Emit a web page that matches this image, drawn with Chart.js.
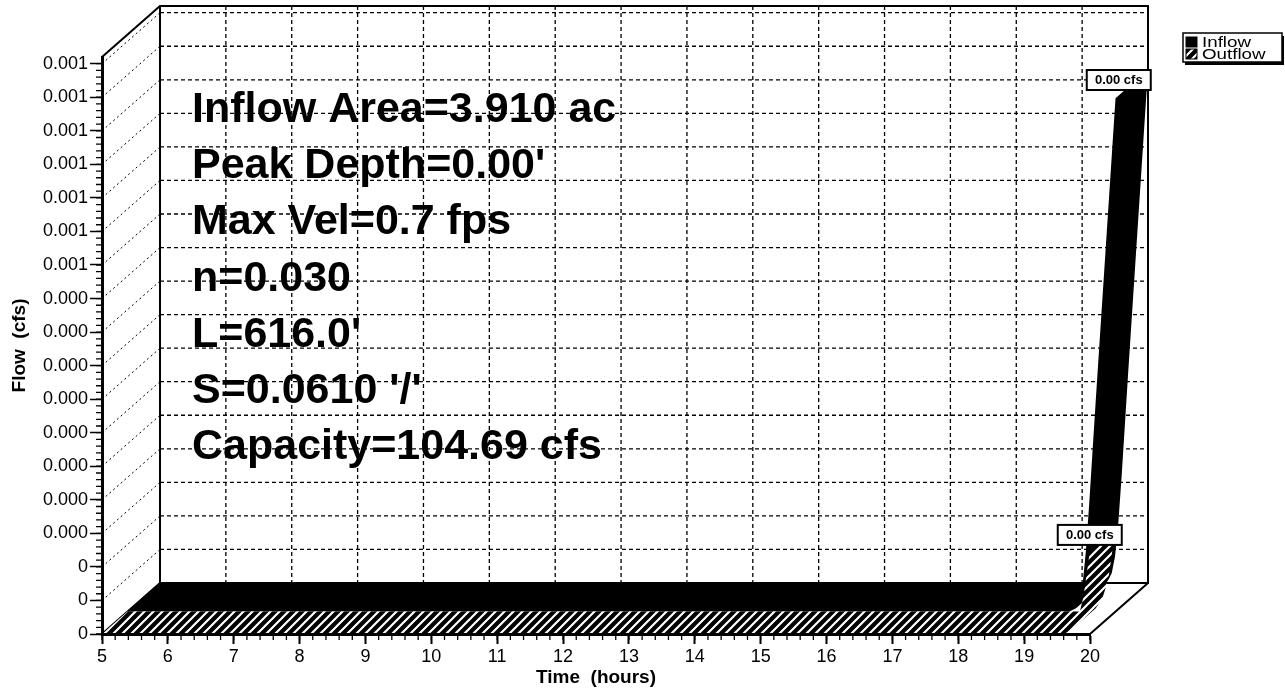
<!DOCTYPE html>
<html>
<head>
<meta charset="utf-8">
<title>Hydrograph</title>
<script src="https://cdn.jsdelivr.net/npm/chart.js@4.4.1/dist/chart.umd.min.js"></script>
<style>
  html, body { margin: 0; padding: 0; background: #fff; }
</style>
</head>
<body>
<canvas id="hydro" width="1285" height="692"></canvas>
<script>
// time (hours) and flows (cfs)
const times = [5, 6, 7, 8, 9, 10, 11, 12, 13, 14, 15, 16, 17, 18, 19,
  19.3, 19.4, 19.45, 19.5, 19.55, 19.6, 19.7, 19.8, 19.85, 19.9, 19.95, 20];
const inflow = [0, 0, 0, 0, 0, 0, 0, 0, 0, 0, 0, 0, 0, 0, 0,
  0, 0.000005, 0.000015, 0.00004, 0.00009, 0.00016, 0.000315, 0.000465, 0.00054, 0.000615, 0.00069, 0.000765];
const outflow = [0, 0, 0, 0, 0, 0, 0, 0, 0, 0, 0, 0, 0, 0, 0,
  0, 0, 0, 0, 0, 0, 0.000005, 0.00002, 0.000035, 0.000055, 0.00009, 0.000125];

const hourTicks = [5, 6, 7, 8, 9, 10, 11, 12, 13, 14, 15, 16, 17, 18, 19, 20];
const yTickValues = [0, 0.00005, 0.0001, 0.00015, 0.0002, 0.00025, 0.0003, 0.00035, 0.0004,
  0.00045, 0.0005, 0.00055, 0.0006, 0.00065, 0.0007, 0.00075, 0.0008, 0.00085];
const yTickLabels = ['0', '0', '0', '0.000', '0.000', '0.000', '0.000', '0.000', '0.000', '0.000', '0.000',
  '0.001', '0.001', '0.001', '0.001', '0.001', '0.001', '0.001'];
const yMax = 0.00086;

const notes = ['Inflow Area=3.910 ac', 'Peak Depth=0.00\'', 'Max Vel=0.7 fps', 'n=0.030',
  'L=616.0\'', 'S=0.0610 \'/\'', 'Capacity=104.69 cfs'];

const FONT = '"Liberation Sans", Arial, sans-serif';
const DEPTH = { dx: 58, dy: -51 };   // offset from front plane to back wall

function hatch() {
  const c = document.createElement('canvas');
  c.width = 9; c.height = 9;
  const g = c.getContext('2d');
  g.fillStyle = '#000';
  g.fillRect(0, 0, 9, 9);
  g.strokeStyle = '#fff';
  g.lineWidth = 2.2;
  g.beginPath();
  g.moveTo(-2, 11); g.lineTo(11, -2);
  g.moveTo(-2, 2); g.lineTo(2, -2);
  g.moveTo(7, 11); g.lineTo(11, 7);
  g.stroke();
  return g.createPattern(c, 'repeat');
}
const hatchFill = hatch();

const frame3d = {
  id: 'frame3d',
  beforeDatasetsDraw(chart) {
    const { ctx, chartArea: a, scales: { x, y } } = chart;
    const bl = a.left + DEPTH.dx, bt = a.top + DEPTH.dy;
    const br = a.right + DEPTH.dx, bb = a.bottom + DEPTH.dy;
    ctx.save();
    ctx.strokeStyle = '#000';

    // back wall grid
    ctx.lineWidth = 1.3;
    ctx.setLineDash([4, 3]);
    ctx.beginPath();
    hourTicks.forEach(h => {
      if (h > x.min && h < x.max) {
        const px = x.getPixelForValue(h) + DEPTH.dx;
        ctx.moveTo(px, bt); ctx.lineTo(px, bb);
      }
    });
    yTickValues.forEach(v => {
      if (v > 0) {
        const py = y.getPixelForValue(v) + DEPTH.dy;
        ctx.moveTo(bl, py); ctx.lineTo(br, py);
      }
    });
    ctx.stroke();

    // side wall
    ctx.lineWidth = 1;
    ctx.setLineDash([2, 3]);
    ctx.beginPath();
    yTickValues.forEach(v => {
      if (v > 0) {
        const py = y.getPixelForValue(v);
        ctx.moveTo(a.left, py); ctx.lineTo(bl, py + DEPTH.dy);
      }
    });
    ctx.stroke();

    // box edges
    ctx.setLineDash([]);
    ctx.lineWidth = 2;
    ctx.beginPath();
    ctx.moveTo(a.left, a.top); ctx.lineTo(bl, bt); ctx.lineTo(br, bt);
    ctx.lineTo(br, bb); ctx.lineTo(bl, bb); ctx.lineTo(bl, bt);
    ctx.moveTo(a.left, a.bottom); ctx.lineTo(bl, bb);
    ctx.moveTo(a.right, a.bottom); ctx.lineTo(br, bb);
    ctx.stroke();

    // ribbons, back one first
    chart.data.datasets.forEach((ds, i) => {
      const pts = chart.getDatasetMeta(i).data;
      const ax = DEPTH.dx * ds.depth[0], ay = DEPTH.dy * ds.depth[0];
      const bx = DEPTH.dx * ds.depth[1], by = DEPTH.dy * ds.depth[1];
      ctx.beginPath();
      for (let k = 0; k < pts.length - 1; k++) {
        const p = pts[k], n = pts[k + 1];
        const q = [[p.x + ax, p.y + ay], [n.x + ax, n.y + ay], [n.x + bx, n.y + by], [p.x + bx, p.y + by]];
        let area = 0;
        for (let j = 0; j < 4; j++) {
          const c = q[j], d = q[(j + 1) % 4];
          area += c[0] * d[1] - d[0] * c[1];
        }
        if (area < 0) q.reverse();
        ctx.moveTo(q[0][0], q[0][1]);
        for (let j = 1; j < 4; j++) ctx.lineTo(q[j][0], q[j][1]);
        ctx.closePath();
      }
      ctx.fillStyle = ds.backgroundColor;
      ctx.fill();
    });
    ctx.restore();
  },
  beforeDatasetDraw() {
    return false;
  },
  afterDraw(chart) {
    const { ctx, chartArea: a, scales: { x, y } } = chart;
    ctx.save();
    ctx.strokeStyle = '#000';
    ctx.fillStyle = '#000';

    // minor ticks
    ctx.lineWidth = 1.3;
    ctx.beginPath();
    for (let h = x.min; h < x.max; h += 0.2) {
      const px = x.getPixelForValue(h);
      ctx.moveTo(px, a.bottom); ctx.lineTo(px, a.bottom + 6);
    }
    const dv = yTickValues[1] / 5;
    for (let v = 0; v <= yTickValues[yTickValues.length - 1] + 1e-9; v += dv) {
      const py = y.getPixelForValue(v);
      ctx.moveTo(a.left - 6, py); ctx.lineTo(a.left, py);
    }
    ctx.stroke();

    // text block
    ctx.font = 'bold 43px ' + FONT;
    ctx.textAlign = 'left';
    ctx.textBaseline = 'alphabetic';
    notes.forEach((t, i) => ctx.fillText(t, a.left + 90, a.top + 65 + i * 56.2));

    // peak labels
    ctx.font = 'bold 13px ' + FONT;
    ctx.textAlign = 'center';
    ctx.textBaseline = 'middle';
    chart.data.datasets.forEach((ds, i) => {
      const pts = chart.getDatasetMeta(i).data;
      let top = 0;
      ds.data.forEach((d, k) => { if (d.y >= ds.data[top].y) top = k; });
      const p = pts[top];
      const zm = (ds.depth[0] + ds.depth[1]) / 2;
      const cx = p.x + DEPTH.dx * zm - 13;
      const bot = p.y + DEPTH.dy * zm + 6;
      ctx.fillStyle = '#fff';
      ctx.fillRect(cx - 32, bot - 20, 64, 20);
      ctx.lineWidth = 2;
      ctx.strokeRect(cx - 32, bot - 20, 64, 20);
      ctx.fillStyle = '#000';
      ctx.fillText(ds.data[top].y.toFixed(2) + ' cfs', cx, bot - 9.5);
    });

    // legend
    const lx = chart.width - 102, ly = 33, lw = 99, lh = 29;
    ctx.fillRect(lx + 2, ly + 3, lw, lh);
    ctx.fillStyle = '#fff';
    ctx.fillRect(lx, ly, lw, lh);
    ctx.lineWidth = 1.5;
    ctx.strokeRect(lx, ly, lw, lh);
    ctx.font = '15px ' + FONT;
    ctx.textAlign = 'left';
    chart.data.datasets.forEach((ds, i) => {
      const my = ly + 4 + i * 12;
      ctx.fillStyle = ds.backgroundColor;
      ctx.fillRect(lx + 3, my, 11, 10);
      ctx.lineWidth = 1;
      ctx.strokeRect(lx + 3, my, 11, 10);
      ctx.fillStyle = '#000';
      ctx.save();
      ctx.translate(lx + 19, my + 5.5);
      ctx.scale(1.25, 1);
      ctx.fillText(ds.label, 0, 0);
      ctx.restore();
    });
    ctx.restore();
  }
};

new Chart(document.getElementById('hydro'), {
  type: 'line',
  data: {
    datasets: [
      {
        label: 'Inflow',
        data: times.map((t, i) => ({ x: t, y: inflow[i] })),
        backgroundColor: '#000',
        borderColor: '#000',
        depth: [0.44, 1]
      },
      {
        label: 'Outflow',
        data: times.map((t, i) => ({ x: t, y: outflow[i] })),
        backgroundColor: hatchFill,
        borderColor: '#000',
        depth: [0, 0.44]
      }
    ]
  },
  options: {
    responsive: false,
    animation: false,
    layout: { padding: { top: 57, right: 195, left: 0, bottom: 0 } },
    elements: { point: { radius: 0 }, line: { borderWidth: 0 } },
    plugins: { legend: { display: false }, tooltip: { enabled: false } },
    scales: {
      x: {
        type: 'linear',
        min: 5,
        max: 20,
        afterBuildTicks: s => { s.ticks = hourTicks.map(v => ({ value: v })); },
        afterFit: s => { s.height = 58; },
        border: { display: true, color: '#000', width: 3, z: 1 },
        grid: { drawOnChartArea: false, drawTicks: true, tickLength: 10, tickColor: '#000', tickWidth: 2, z: 1 },
        ticks: {
          color: '#000', padding: 2, maxRotation: 0, autoSkip: false, z: 1,
          font: { family: FONT, size: 18 },
          callback: v => String(v)
        },
        title: {
          display: true, text: 'Time  (hours)', color: '#000',
          font: { family: FONT, size: 19, weight: 'bold' },
          padding: { top: 0, bottom: 3 }
        }
      },
      y: {
        type: 'linear',
        min: 0,
        max: yMax,
        afterBuildTicks: s => { s.ticks = yTickValues.map(v => ({ value: v })); },
        afterFit: s => { s.width = 102; },
        border: { display: true, color: '#000', width: 3, z: 1 },
        grid: { drawOnChartArea: false, drawTicks: true, tickLength: 12, tickColor: '#000', tickWidth: 1.5, z: 1 },
        ticks: {
          color: '#000', padding: 2, autoSkip: false, z: 1,
          font: { family: FONT, size: 18 },
          callback: (v, i) => yTickLabels[i]
        },
        title: {
          display: true, text: 'Flow  (cfs)', color: '#000',
          font: { family: FONT, size: 19, weight: 'bold' },
          padding: { top: 8, bottom: 0 }
        }
      }
    }
  },
  plugins: [frame3d]
});
</script>
</body>
</html>
